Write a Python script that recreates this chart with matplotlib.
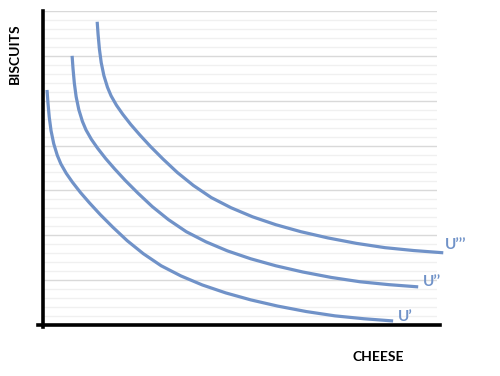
import matplotlib
matplotlib.use("Agg")
import matplotlib.pyplot as plt
from matplotlib.lines import Line2D

# Indifference curves
u1_x = [0.45, 0.55, 0.7, 0.9, 1.2, 1.6, 2.0, 2.6, 3.3, 4.2, 5.2, 6.4, 7.8, 9.4, 11.2,
        13.2, 15.4, 17.8, 20.4, 23.2, 26.2, 29.4, 32.6, 35.8, 39.1]
u1_y = [26.2, 24.8, 23.15, 21.65, 20.2, 18.9, 17.95, 16.9, 15.9, 14.75, 13.6, 12.3, 10.9, 9.4, 7.95,
        6.6, 5.47, 4.46, 3.58, 2.80, 2.11, 1.50, 1.02, 0.70, 0.45]
u2_x = [3.25, 3.35, 3.5, 3.7, 4.0, 4.4, 4.8, 5.4, 6.1, 7.0, 8.0, 9.2, 10.6, 12.2, 14.0,
        16.0, 18.2, 20.6, 23.2, 26.0, 29.0, 32.2, 35.4, 38.6, 41.9]
u2_y = [30.0, 28.6, 26.95, 25.45, 24.0, 22.7, 21.75, 20.7, 19.7, 18.55, 17.4, 16.1, 14.7, 13.2, 11.75,
        10.4, 9.27, 8.26, 7.38, 6.6, 5.91, 5.3, 4.82, 4.5, 4.25]
u3_x = [6.05, 6.15, 6.3, 6.5, 6.8, 7.2, 7.6, 8.2, 8.9, 9.8, 10.8, 12.0, 13.4, 15.0, 16.8,
        18.8, 21.0, 23.4, 26.0, 28.8, 31.8, 35.0, 38.2, 41.4, 44.7]
u3_y = [33.8, 32.4, 30.75, 29.25, 27.8, 26.5, 25.55, 24.5, 23.5, 22.35, 21.2, 19.9, 18.5, 17.0, 15.55,
        14.2, 13.07, 12.06, 11.18, 10.4, 9.71, 9.1, 8.62, 8.3, 8.05]

labels = ["U\u2019", "U\u2019\u2019", "U\u2019\u2019\u2019"]
label_x = [39.6, 42.4, 44.9]
label_y = [0.9, 4.8, 8.9]

x_title = "CHEESE"
y_title = "BISCUITS"

BLUE = "#7092C8"

plt.rcParams['font.family'] = ['Lato', 'DejaVu Sans']

fig = plt.figure(figsize=(5.0, 3.76), dpi=100)
ax = fig.add_axes([43/500, 1 - 325/376, 394/500, 314/376])
ax.set_xlim(0, 44)
ax.set_ylim(0, 35)

# gridlines
for v in range(0, 36):
    if v % 5 == 0:
        ax.axhline(v, color="#D9D9D9", lw=1.0, zorder=1)
    else:
        ax.axhline(v, color="#F0F0F0", lw=1.0, zorder=0.9)

for xs, ys in [(u1_x, u1_y), (u2_x, u2_y), (u3_x, u3_y)]:
    ax.plot(xs, ys, color=BLUE, lw=2.3, solid_capstyle="butt",
            solid_joinstyle="round", clip_on=False, zorder=3)

for t, lx, ly in zip(labels, label_x, label_y):
    ax.text(lx, ly, t, color=BLUE, fontsize=11, fontweight="bold",
            ha="left", va="center", clip_on=False)

ax.set_xticks([])
ax.set_yticks([])
for s in ax.spines.values():
    s.set_visible(False)

# axis lines
fig.add_artist(Line2D([43/500, 43/500], [1 - 327/376, 1 - 11/376], color="black", lw=2.6))
fig.add_artist(Line2D([38/500, 440/500], [1 - 325/376, 1 - 325/376], color="black", lw=2.6))

fig.text(15/500, 1 - 54/376, y_title, rotation=90, ha="center", va="center",
         fontsize=10, fontweight="bold", color="black")
fig.text(378/500, 1 - 357/376, x_title, ha="center", va="center",
         fontsize=10, fontweight="bold", color="black")

fig.savefig("out.png", dpi=100, facecolor="white")
